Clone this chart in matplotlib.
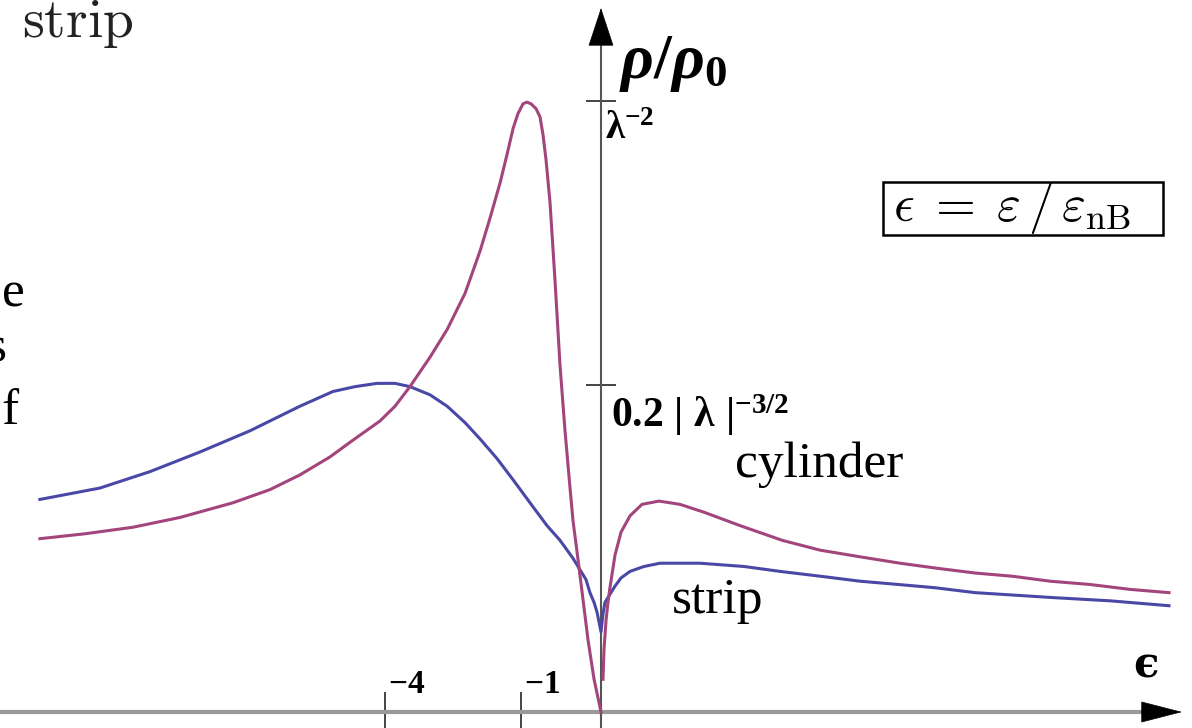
import numpy as np
import matplotlib.pyplot as plt
from matplotlib.patches import Rectangle

plt.rcParams['mathtext.fontset'] = 'custom'
plt.rcParams['mathtext.rm'] = 'Liberation Serif:bold'
plt.rcParams['mathtext.it'] = 'Liberation Serif:italic:bold'
plt.rcParams['mathtext.bf'] = 'Liberation Serif:bold'

# rho/rho0 against epsilon, cylinder (eps < 0 branch and eps > 0 branch) and strip
eps_cyl = [-15.16, -13.49, -11.77, -10.15, -8.41, -7.26, -6.36, -5.49, -4.93, -4.13,
           -3.744, -3.37, -2.887, -2.49, -2.097, -1.78, -1.58, -1.38, -1.252, -1.14,
           -1.053, -0.965, -0.897, -0.830, -0.748, -0.685, -0.638, -0.593, -0.534,
           -0.462, -0.393, -0.328, -0.266, -0.231, -0.186, -0.125, -0.079, -0.033, 0.0]
rho_cyl = [0.106, 0.109, 0.113, 0.119, 0.128, 0.136, 0.145, 0.156, 0.165, 0.178,
           0.187, 0.199, 0.217, 0.234, 0.256, 0.282, 0.302, 0.324, 0.341, 0.357,
           0.366, 0.372, 0.373, 0.372, 0.369, 0.364, 0.353, 0.338, 0.312,
           0.264, 0.212, 0.172, 0.137, 0.117, 0.098, 0.069, 0.044, 0.020, 0.0]
eps_cyl_pos = [0.0058, 0.0102, 0.021, 0.033, 0.047, 0.088, 0.145, 0.243, 0.393, 0.638,
               0.983, 1.44, 2.162, 3.13, 4.078, 5.13, 6.30, 7.38, 8.61, 9.85, 11.11,
               12.51, 13.96, 15.42]
rho_cyl_pos = [0.020, 0.038, 0.056, 0.067, 0.076, 0.096, 0.110, 0.120, 0.127, 0.129,
               0.127, 0.122, 0.114, 0.105, 0.099, 0.095, 0.091, 0.088, 0.085, 0.083,
               0.080, 0.078, 0.075, 0.073]

eps_strip = [-15.16, -12.94, -11.18, -9.49, -7.876, -6.36, -5.41, -4.796, -4.21,
             -3.744, -3.37, -2.887, -2.49, -2.097, -1.78, -1.442, -1.14, -0.847,
             -0.578, -0.393, -0.231, -0.155, -0.097, -0.063, -0.033, -0.015, 0.0,
             0.0058, 0.015, 0.047, 0.088, 0.145, 0.243, 0.420, 0.654, 0.948, 1.346,
             2.25, 3.077, 4.10, 5.154, 6.24, 7.35, 8.61, 11.18, 13.23, 15.42]
rho_strip = [0.130, 0.137, 0.147, 0.159, 0.172, 0.187, 0.196, 0.199, 0.201,
             0.201, 0.199, 0.194, 0.187, 0.177, 0.167, 0.155, 0.142, 0.128,
             0.114, 0.105, 0.094, 0.087, 0.081, 0.073, 0.067, 0.061, 0.049,
             0.060, 0.067, 0.072, 0.077, 0.082, 0.086, 0.089, 0.091, 0.091, 0.091,
             0.089, 0.086, 0.083, 0.080, 0.078, 0.076, 0.073, 0.070, 0.068, 0.065]

x_ticks = [-4, -1]
x_tick_labels = [r'$-4$', r'$-1$']
y_ticks = [0.2, 0.374]
y_tick_labels = [r'$\mathrm{0.2\ |\ λ\ |}^{-3/2}$', r'$\mathrm{λ}^{-2}$']

W, H = 1192, 728
P = 0.7165  # compressive power on the epsilon axis


def fwd(e):
    e = np.asarray(e, dtype=float)
    return np.sign(e) * np.abs(e) ** P


def inv(u):
    u = np.asarray(u, dtype=float)
    return np.sign(u) * np.abs(u) ** (1 / P)


def fpos(x, y):
    return x / W, 1 - y / H


fig = plt.figure(figsize=(W / 100, H / 100), dpi=100)
ax = fig.add_axes([0, 0, 1, 1])
ax.set_xscale('function', functions=(fwd, inv))
ax.set_xlim(float(inv(-601 / 80)), float(inv(591 / 80)))
ax.set_ylim(-16 / 1635, 712 / 1635)

purple = '#a2457c'
blue = '#4a48a6'
ax.plot(eps_strip, rho_strip, color=blue, lw=2.2, solid_joinstyle='round', zorder=3)
ax.plot(eps_cyl, rho_cyl, color=purple, lw=2.2, solid_joinstyle='round', zorder=4)
ax.plot(eps_cyl_pos, rho_cyl_pos, color=purple, lw=2.2, solid_joinstyle='round', zorder=4)

# axes through the origin
for s in ax.spines.values():
    s.set_visible(False)
ax.spines['left'].set_position('zero')
ax.spines['bottom'].set_position('zero')
ax.axhline(0, xmax=1143 / W, color='#9a9a9a', lw=3, zorder=2)
ax.axvline(0, ymax=(H - 40) / H, color='#555555', lw=1.5, zorder=2)
ax.annotate('', xy=(1182 / W, 0), xytext=(1143 / W, 0),
            xycoords=('axes fraction', 'data'), textcoords=('axes fraction', 'data'),
            arrowprops=dict(arrowstyle='-|>,head_length=28,head_width=7.2',
                            mutation_scale=1, color='black', lw=0.5,
                            shrinkA=0, shrinkB=0))
ax.annotate('', xy=(0, (H - 8) / H), xytext=(0, (H - 44) / H),
            xycoords=('data', 'axes fraction'), textcoords=('data', 'axes fraction'),
            arrowprops=dict(arrowstyle='-|>,head_length=26,head_width=8.6',
                            mutation_scale=1, color='black', lw=0.5,
                            shrinkA=0, shrinkB=0))

ax.set_xticks(x_ticks)
ax.set_yticks(y_ticks)
ax.set_xticklabels([])
ax.set_yticklabels([])
ax.tick_params(axis='x', direction='inout', length=29, width=1.4, colors='#444444')
ax.tick_params(axis='y', direction='inout', length=22, width=1.4, colors='#444444')
ax.minorticks_off()

for v, lab in zip(x_ticks, x_tick_labels):
    ax.annotate(lab, xy=(v, 0), xytext=(3, 19), textcoords='offset pixels',
                ha='left', va='baseline', fontsize=24)
ax.annotate(y_tick_labels[0], xy=(0, y_ticks[0]), xytext=(10, -7),
            textcoords='offset pixels', ha='left', va='top', fontsize=30)
ax.annotate(y_tick_labels[1], xy=(0, y_ticks[1]), xytext=(4, -8),
            textcoords='offset pixels', ha='left', va='top', fontsize=28)

# axis names
fig.text(*fpos(619, 78), r'$\rho/\rho_0$', fontsize=46, ha='left', va='baseline')
fig.text(*fpos(1133, 678), 'ϵ', fontsize=30, fontweight='bold',
         family='DejaVu Serif', ha='left', va='baseline')

# curve names and definition box
fig.text(*fpos(735, 477), 'cylinder', fontsize=37, family='Liberation Serif',
         ha='left', va='baseline')
fig.text(*fpos(672, 613), 'strip', fontsize=37, family='Liberation Serif',
         ha='left', va='baseline')
fig.add_artist(Rectangle(fpos(883, 235), 280 / W, 53 / H, transform=fig.transFigure,
                         fc='white', ec='black', lw=1.8, zorder=5))
fig.text(*fpos(893, 221), r'$\epsilon\;=\;\varepsilon\,/\,\varepsilon_{\rm nB}$',
         math_fontfamily='cm', fontsize=37, ha='left', va='baseline', zorder=6)

# surrounding page text
fig.text(*fpos(22, 37), r'$\mathrm{strip}$', math_fontfamily='cm', fontsize=40,
         ha='left', va='baseline', color='#222222')
fig.text(*fpos(2, 306), 'e', fontsize=37, family='Liberation Serif',
         ha='left', va='baseline')
fig.text(*fpos(7, 361), 's', fontsize=37, family='Liberation Serif',
         ha='right', va='baseline')
fig.text(*fpos(1, 424), 'f', fontsize=37, family='Liberation Serif',
         ha='left', va='baseline')

fig.savefig('out.png', dpi=100)
